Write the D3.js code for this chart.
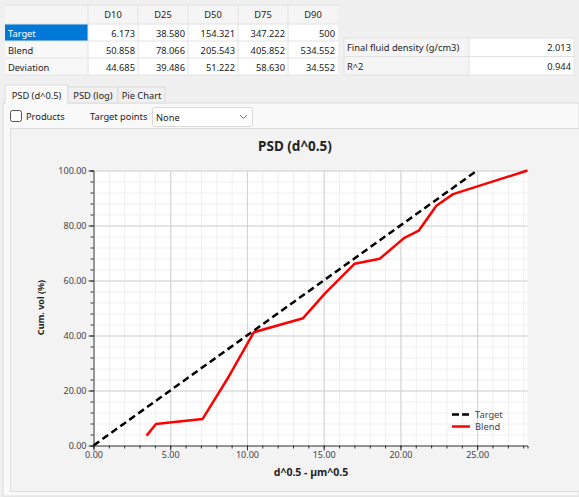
<!DOCTYPE html>
<html>
<head>
<meta charset="utf-8">
<script src="https://cdn.jsdelivr.net/npm/d3@7"></script>
<style>
  html, body { margin: 0; padding: 0; background: #f0f0f0; }
  svg { display: block; font-family: "Segoe UI", "Noto Sans", "Open Sans", sans-serif; }
</style>
</head>
<body>
<div id="app"></div>
<script>
// table data
var columns = ["D10", "D25", "D50", "D75", "D90"]
var rowNames = ["Target", "Blend", "Deviation"]
var targetD = ["6.173", "38.580", "154.321", "347.222", "500"]
var blendD = ["50.858", "78.066", "205.543", "405.852", "534.552"]
var deviationD = ["44.685", "39.486", "51.222", "58.630", "34.552"]
var infoNames = ["Final fluid density (g/cm3)", "R^2"]
var infoValues = ["2.013", "0.944"]
var tabNames = ["PSD (d^0.5)", "PSD (log)", "Pie Chart"]

// chart data (x = d^0.5, y = cum. vol %)
var targetSeries = [ {x:0, y:0}, {x:25, y:100} ]
var blendSeries = [ {x:3.46, y:3.6}, {x:4.07, y:7.8}, {x:7.1, y:9.6}, {x:8.82, y:25.1},
                    {x:10.45, y:41.2}, {x:13.66, y:46.3}, {x:15.07, y:55.2}, {x:17.02, y:66.1},
                    {x:18.65, y:67.9}, {x:20.23, y:75.4}, {x:21.19, y:78.1}, {x:22.34, y:87.2},
                    {x:23.43, y:91.4}, {x:28.28, y:100} ]
var xTicks = [0, 5, 10, 15, 20, 25]
var yTicks = [0, 20, 40, 60, 80, 100]

var W = 579, H = 497
var uiSize = 9.3

var svg = d3.select("#app").append("svg")
    .attr("width", W)
    .attr("height", H)

svg.append("rect").attr("width", W).attr("height", H).attr("fill", "#f0f0f0")

// ---------- top table ----------
var t = svg.append("g").attr("font-size", uiSize).attr("fill", "#222")
var colX = [5, 88, 138, 188, 238, 288, 338]
var rowY = [5, 24, 41, 58, 75]
var tableRows = [targetD, blendD, deviationD]

// header
t.append("rect").attr("x", 5).attr("y", 5).attr("width", 333).attr("height", 19).attr("fill", "#f5f5f5")
columns.forEach(function(c, i){
  t.append("text")
    .attr("x", (colX[i+1] + colX[i+2]) / 2)
    .attr("y", 18)
    .attr("text-anchor", "middle")
    .text(c)
})
rowNames.forEach(function(r, j){
  var y0 = rowY[j+1]
  t.append("rect").attr("x", 5).attr("y", y0).attr("width", 83).attr("height", 17)
    .attr("fill", j == 0 ? "#0078d7" : "#f8f8f8")
  t.append("rect").attr("x", 88).attr("y", y0).attr("width", 250).attr("height", 17).attr("fill", "#fff")
  t.append("text").attr("x", 8).attr("y", y0 + 12.5)
    .attr("fill", j == 0 ? "#fff" : "#222")
    .text(r)
  tableRows[j].forEach(function(v, i){
    t.append("text")
      .attr("x", colX[i+2] - 3)
      .attr("y", y0 + 12.5)
      .attr("text-anchor", "end")
      .text(v)
  })
})
// grid lines of table
colX.forEach(function(x){
  if (x == 5 || x == 338) return
  t.append("line").attr("x1", x).attr("x2", x).attr("y1", 5).attr("y2", 75).attr("stroke", "#e2e2e2")
})
rowY.forEach(function(y){
  t.append("line").attr("x1", 5).attr("x2", 338).attr("y1", y).attr("y2", y).attr("stroke", "#e2e2e2")
})

// info table
var infoY = [38, 56.5, 75]
infoNames.forEach(function(n, j){
  t.append("rect").attr("x", 344).attr("y", infoY[j]).attr("width", 125).attr("height", infoY[j+1] - infoY[j]).attr("fill", "#f5f5f5")
  t.append("rect").attr("x", 469).attr("y", infoY[j]).attr("width", 105).attr("height", infoY[j+1] - infoY[j]).attr("fill", "#fff")
  t.append("text").attr("x", 347).attr("y", infoY[j] + 13).text(n)
  t.append("text").attr("x", 571).attr("y", infoY[j] + 13).attr("text-anchor", "end").text(infoValues[j])
})
t.append("rect").attr("x", 344).attr("y", 38).attr("width", 230).attr("height", 37)
  .attr("fill", "none").attr("stroke", "#e2e2e2")
t.append("line").attr("x1", 344).attr("x2", 574).attr("y1", 56.5).attr("y2", 56.5).attr("stroke", "#e2e2e2")
t.append("line").attr("x1", 469).attr("x2", 469).attr("y1", 38).attr("y2", 75).attr("stroke", "#e2e2e2")

// ---------- tabs ----------
var tabX = [5, 68, 118, 165]
svg.append("rect").attr("x", 3).attr("y", 103).attr("width", 576).attr("height", 393)
  .attr("fill", "#f9f9f9").attr("stroke", "#dcdcdc")
tabNames.forEach(function(n, i){
  svg.append("rect")
    .attr("x", tabX[i]).attr("y", i == 0 ? 85 : 87)
    .attr("width", tabX[i+1] - tabX[i]).attr("height", i == 0 ? 19 : 16)
    .attr("fill", i == 0 ? "#f9f9f9" : "#f0f0f0")
    .attr("stroke", "#dcdcdc")
  svg.append("text")
    .attr("x", (tabX[i] + tabX[i+1]) / 2).attr("y", 99)
    .attr("text-anchor", "middle").attr("font-size", uiSize).attr("fill", "#222")
    .text(n)
})
svg.append("rect").attr("x", 5.5).attr("y", 102).attr("width", 62).attr("height", 3).attr("fill", "#f9f9f9")

// checkbox + dropdown
svg.append("rect").attr("x", 10.5).attr("y", 110.5).attr("width", 11).attr("height", 11).attr("rx", 2)
  .attr("fill", "#fff").attr("stroke", "#555")
svg.append("text").attr("x", 26).attr("y", 119.5).attr("font-size", uiSize).attr("fill", "#222").text("Products")
svg.append("text").attr("x", 90).attr("y", 120).attr("font-size", uiSize).attr("fill", "#222").text("Target points")
svg.append("rect").attr("x", 152.5).attr("y", 107.5).attr("width", 100).attr("height", 19).attr("rx", 2)
  .attr("fill", "#fff").attr("stroke", "#dadada")
svg.append("text").attr("x", 156).attr("y", 121).attr("font-size", uiSize).attr("fill", "#222").text("None")
svg.append("path").attr("d", "M240,115 l3.5,3.5 l3.5,-3.5").attr("fill", "none").attr("stroke", "#777")

// chart panel
svg.append("rect").attr("x", 10.5).attr("y", 128.5).attr("width", 570).attr("height", 363)
  .attr("fill", "#f3f3f3").attr("stroke", "#dcdcdc")

// ---------- chart ----------
var x = d3.scaleLinear().domain([0, 28.28]).range([93.5, 527.5])
var y = d3.scaleLinear().domain([0, 100]).range([445.5, 170.5])

var plot = svg.append("g")
plot.append("rect")
  .attr("x", x(0)).attr("y", y(100))
  .attr("width", x(28.28) - x(0)).attr("height", y(0) - y(100))
  .attr("fill", "#fff")

// minor grid
plot.append("g")
  .attr("transform", "translate(0," + y(0) + ")")
  .call(d3.axisBottom(x).tickValues(d3.range(1, 29)).tickSize(-(y(0) - y(100))).tickFormat(""))
  .call(function(g){ g.select(".domain").remove() })
  .selectAll("line").attr("stroke", "#efefef")
plot.append("g")
  .attr("transform", "translate(" + x(0) + ",0)")
  .call(d3.axisLeft(y).tickValues(d3.range(4, 101, 4)).tickSize(-(x(28.28) - x(0))).tickFormat(""))
  .call(function(g){ g.select(".domain").remove() })
  .selectAll("line").attr("stroke", "#efefef")
// major grid
plot.append("g")
  .attr("transform", "translate(0," + y(0) + ")")
  .call(d3.axisBottom(x).tickValues(xTicks.slice(1)).tickSize(-(y(0) - y(100))).tickFormat(""))
  .call(function(g){ g.select(".domain").remove() })
  .selectAll("line").attr("stroke", "#d2d2d2")
plot.append("g")
  .attr("transform", "translate(" + x(0) + ",0)")
  .call(d3.axisLeft(y).tickValues(yTicks.slice(1)).tickSize(-(x(28.28) - x(0))).tickFormat(""))
  .call(function(g){ g.select(".domain").remove() })
  .selectAll("line").attr("stroke", "#d2d2d2")

// axes: minor ticks
plot.append("g")
  .attr("transform", "translate(0," + y(0) + ")")
  .call(d3.axisBottom(x).tickValues(d3.range(0, 29)).tickSize(3).tickFormat(""))
  .call(function(g){ g.selectAll("line").attr("stroke", "#333") })
  .select(".domain").attr("stroke", "#333")
plot.append("g")
  .attr("transform", "translate(" + x(0) + ",0)")
  .call(d3.axisLeft(y).tickValues(d3.range(0, 101, 4)).tickSize(3).tickFormat(""))
  .call(function(g){ g.selectAll("line").attr("stroke", "#333") })
  .select(".domain").attr("stroke", "#333")

// axes: major ticks + labels
var xAxis = plot.append("g")
  .attr("transform", "translate(0," + y(0) + ")")
  .call(d3.axisBottom(x).tickValues(xTicks).tickSize(5).tickPadding(1).tickFormat(d3.format(".2f")))
xAxis.select(".domain").remove()
xAxis.selectAll("line").attr("stroke", "#333")
xAxis.selectAll("text").attr("font-size", 9).attr("fill", "#444")
  .attr("font-family", "'Segoe UI', 'Noto Sans', sans-serif")

var yAxis = plot.append("g")
  .attr("transform", "translate(" + x(0) + ",0)")
  .call(d3.axisLeft(y).tickValues(yTicks).tickSize(5).tickPadding(2).tickFormat(d3.format(".2f")))
yAxis.select(".domain").remove()
yAxis.selectAll("line").attr("stroke", "#333")
yAxis.selectAll("text").attr("font-size", 9).attr("fill", "#444")
  .attr("font-family", "'Segoe UI', 'Noto Sans', sans-serif")

// lines
var line = d3.line()
  .x(function(d){ return x(d.x) })
  .y(function(d){ return y(d.y) })

plot.append("path")
  .datum(blendSeries)
  .attr("d", line)
  .attr("fill", "none")
  .attr("stroke", "#ff0000")
  .attr("stroke-width", 2.5)
  .attr("stroke-linejoin", "round")

plot.append("path")
  .datum(targetSeries)
  .attr("d", line)
  .attr("fill", "none")
  .attr("stroke", "#000")
  .attr("stroke-width", 2.5)
  .attr("stroke-dasharray", "7,4")

// title and labels
svg.append("text")
  .attr("x", 295).attr("y", 150.5)
  .attr("text-anchor", "middle")
  .attr("font-size", 13.5).attr("font-weight", "bold").attr("fill", "#222")
  .text("PSD (d^0.5)")

svg.append("text")
  .attr("x", 311).attr("y", 476)
  .attr("text-anchor", "middle")
  .attr("font-size", 10.5).attr("font-weight", "bold").attr("fill", "#222")
  .text("d^0.5 - µm^0.5")

svg.append("text")
  .attr("transform", "translate(43.5," + 307.5 + ") rotate(-90)")
  .attr("text-anchor", "middle")
  .attr("font-size", 9).attr("font-weight", "bold").attr("fill", "#222")
  .text("Cum. vol (%)")

// legend
var legend = svg.append("g").attr("font-size", 9.3).attr("fill", "#444")
var legendItems = [ {name: "Target", color: "#000", dash: "7,3"}, {name: "Blend", color: "#ff0000", dash: null} ]
legendItems.forEach(function(d, i){
  var ly = 414.5 + i * 12
  legend.append("line")
    .attr("x1", 452).attr("x2", 470).attr("y1", ly).attr("y2", ly)
    .attr("stroke", d.color).attr("stroke-width", 2.5)
    .attr("stroke-dasharray", d.dash)
  legend.append("text").attr("x", 475).attr("y", ly + 3.2).text(d.name)
})
</script>
</body>
</html>
